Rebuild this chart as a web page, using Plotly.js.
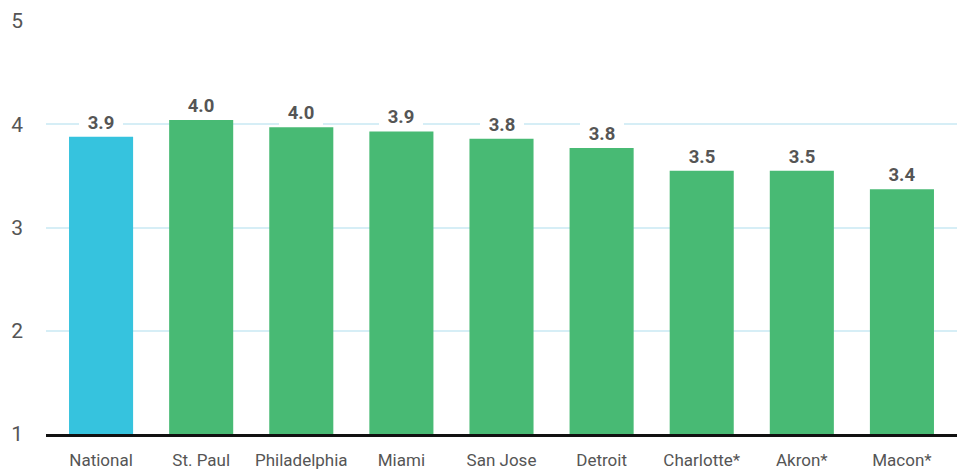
<!DOCTYPE html>
<html>
<head>
<meta charset="utf-8">
<script src="https://cdn.plot.ly/plotly-3.0.1.min.js"></script>
<style>html,body{margin:0;padding:0;background:#fff;}#chart{width:964px;height:470px;}</style>
</head>
<body>
<div id="chart"></div>
<script>
const categories = ["National","St. Paul","Philadelphia","Miami","San Jose","Detroit","Charlotte*","Akron*","Macon*"];
const values = [3.88, 4.04, 3.97, 3.93, 3.86, 3.77, 3.55, 3.55, 3.37];
const valueLabels = ["3.9","4.0","4.0","3.9","3.8","3.8","3.5","3.5","3.4"];
const barColors = ["#36C3DE","#48BA74","#48BA74","#48BA74","#48BA74","#48BA74","#48BA74","#48BA74","#48BA74"];
const yTicks = [1,2,3,4,5];

const trace = {
  type: "bar",
  x: categories,
  y: values.map(v => v - 1),
  base: 1,
  marker: {color: barColors},
  width: 0.64,
  hoverinfo: "skip"
};

const annotations = categories.map((c, i) => ({
  x: c, y: values[i], xref: "x", yref: "y",
  text: "<b>" + valueLabels[i] + "</b>",
  showarrow: false, yanchor: "bottom", yshift: 1,
  width: 40, align: "center",
  bgcolor: "#ffffff", borderpad: 2, borderwidth: 0,
  font: {family: "Roboto, Arial, sans-serif", size: 18.5, color: "#555555"}
}));

const layout = {
  width: 964, height: 470,
  margin: {l: 46, r: 7, t: 21, b: 36},
  paper_bgcolor: "#ffffff", plot_bgcolor: "#ffffff",
  showlegend: false,
  font: {family: "Roboto, Arial, sans-serif", color: "#555555"},
  xaxis: {
    type: "category",
    range: [-0.55, 8.55],
    showgrid: false, zeroline: false,
    showline: true, linecolor: "#111111", linewidth: 2.5,
    ticks: "", ticklabelstandoff: 9,
    tickfont: {size: 17, color: "#555555"},
    fixedrange: true
  },
  yaxis: {
    range: [1, 5],
    tickvals: yTicks,
    ticktext: yTicks.map(String),
    showgrid: true, gridcolor: "#D6EEF6", gridwidth: 2,
    zeroline: false, showline: false,
    ticks: "", ticklabelstandoff: 22,
    tickfont: {size: 21, color: "#555555"},
    fixedrange: true
  },
  annotations: annotations,
  bargap: 0.36
};

Plotly.newPlot("chart", [trace], layout, {displayModeBar: false, staticPlot: true});
</script>
</body>
</html>
